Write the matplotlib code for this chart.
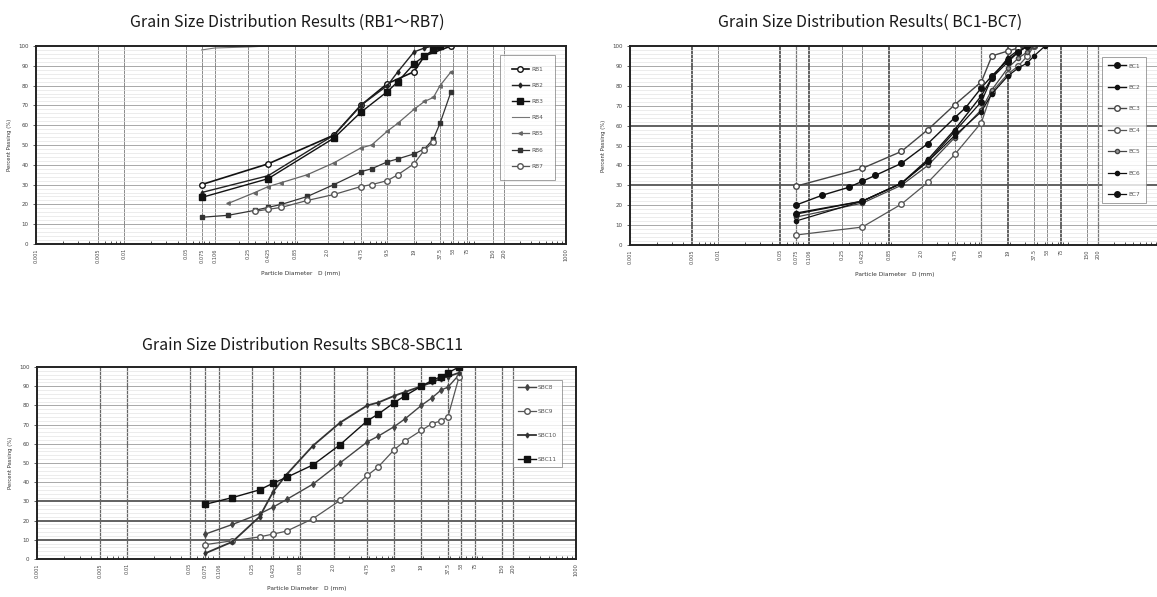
import matplotlib
matplotlib.use("Agg")
import matplotlib.pyplot as plt
import numpy as np
from matplotlib.ticker import LogLocator, NullFormatter, MultipleLocator

# x axis tick marks / labels (particle diameter, mm)
tick_vals = [0.001, 0.005, 0.01, 0.05, 0.075, 0.106, 0.25, 0.425, 0.85, 2.0,
             4.75, 9.5, 19, 37.5, 53, 75, 150, 200, 1000]
tick_text = ["0.001", "0.005", "0.01", "0.05", "0.075", "0.106", "0.25", "0.425",
             "0.85", "2.0", "4.75", "9.5", "19", "37.5", "53", "75", "150", "200", "1000"]

# ---- RB1 - RB7 (percent passing)
rb1_d = [0.075, 0.425, 2.36, 4.75, 9.5, 19, 25, 50]
rb1_p = [30, 40.5, 55, 70, 81, 87, 95, 100]
rb2_d = [0.075, 0.425, 2.36, 4.75, 9.5, 12.5, 19, 25, 31.5, 37.5]
rb2_p = [26, 34.5, 55, 70, 80, 87, 97, 99, 100, 100]
rb3_d = [0.075, 0.425, 2.36, 4.75, 9.5, 12.5, 19, 25, 31.5, 37.5]
rb3_p = [23.5, 33, 53.5, 66.5, 77, 82, 91, 95, 98, 100]
rb4_d = [0.075, 0.106, 0.25, 0.425]
rb4_p = [98, 99, 99.5, 100]
rb5_d = [0.15, 0.3, 0.425, 0.6, 1.18, 2.36, 4.75, 6.3, 9.5, 12.5, 19, 25, 31.5, 37.5, 50]
rb5_p = [20.5, 26, 29, 31, 35, 41, 48.5, 50, 57, 61, 68, 72, 74, 80, 87]
rb6_d = [0.075, 0.15, 0.3, 0.425, 0.6, 1.18, 2.36, 4.75, 6.3, 9.5, 12.5, 19, 25, 31.5, 37.5, 50]
rb6_p = [13.5, 14.5, 17, 18.5, 20, 24, 30, 36.5, 38, 41.5, 43, 45.5, 48, 53, 61, 77]
rb7_d = [0.3, 0.425, 0.6, 1.18, 2.36, 4.75, 6.3, 9.5, 12.5, 19, 25, 31.5]
rb7_p = [16.5, 17.5, 18.5, 22, 25, 29, 30, 32, 35, 40.5, 47.5, 51.5]

# ---- BC1 - BC7
bc1_d = [0.075, 0.15, 0.3, 0.425, 0.6, 1.18, 2.36, 4.75, 6.3, 9.5, 12.5, 19, 25, 31.5]
bc1_p = [20, 25, 29, 32, 35, 41, 51, 64, 69, 79, 85, 93, 97, 100]
bc2_d = [0.075, 0.425, 1.18, 2.36, 4.75, 9.5, 12.5, 19, 25, 31.5]
bc2_p = [16, 22, 31, 43, 58, 75, 84, 94, 98, 100]
bc3_d = [0.075, 0.425, 1.18, 2.36, 4.75, 9.5, 12.5, 19, 25, 37.5]
bc3_p = [29.5, 38.5, 47, 58, 70.5, 82, 95, 97.5, 99, 100]
bc4_d = [0.075, 0.425, 1.18, 2.36, 4.75, 9.5, 12.5, 19, 25, 31.5, 37.5]
bc4_p = [5, 9, 20.5, 31.5, 45.5, 61.5, 77, 86, 90, 95, 100]
bc5_d = [0.075, 0.425, 1.18, 2.36, 4.75, 9.5, 12.5, 19, 25, 31.5, 37.5]
bc5_p = [14, 21, 30, 40, 54, 68, 78, 89, 94, 97, 100]
bc6_d = [0.075, 0.425, 1.18, 2.36, 4.75, 9.5, 12.5, 19, 25, 31.5, 37.5, 50]
bc6_p = [12, 22, 31, 42, 55, 67, 76, 85, 89, 91.5, 95, 100]
bc7_d = [0.075, 0.425, 1.18, 2.36, 4.75, 9.5, 12.5, 19, 25, 31.5]
bc7_p = [15.5, 22, 31, 42, 57, 72, 84, 92, 97, 100]

# ---- SBC8 - SBC11
sbc8_d = [0.075, 0.15, 0.3, 0.425, 0.6, 1.18, 2.36, 4.75, 6.3, 9.5, 12.5, 19, 25, 31.5, 37.5, 50]
sbc8_p = [13, 18, 23.5, 27, 31, 39, 50, 61, 64, 69, 73, 80, 84, 88, 89.5, 96]
sbc9_d = [0.075, 0.15, 0.3, 0.425, 0.6, 1.18, 2.36, 4.75, 6.3, 9.5, 12.5, 19, 25, 31.5, 37.5, 50]
sbc9_p = [7.5, 9.5, 11.5, 13, 14.5, 21, 30.5, 43.5, 48, 57, 61.5, 67, 70.5, 72, 74, 95]
sbc10_d = [0.075, 0.15, 0.3, 0.425, 0.6, 1.18, 2.36, 4.75, 6.3, 9.5, 12.5, 19, 25, 31.5, 37.5, 50]
sbc10_p = [3, 9, 22, 35, 44, 59, 71, 80, 81.5, 85, 87, 90, 92, 94, 95, 97]
sbc11_d = [0.075, 0.15, 0.3, 0.425, 0.6, 1.18, 2.36, 4.75, 6.3, 9.5, 12.5, 19, 25, 31.5, 37.5, 50]
sbc11_p = [28.5, 32, 36, 39.5, 42.5, 49, 59.5, 72, 75.5, 81.5, 85, 90, 93, 95, 97, 100]

W, H = 1157, 597
fig = plt.figure(figsize=(W / 100, H / 100), dpi=100)


def px_axes(l, t, r, b):
    return fig.add_axes([l / W, 1 - b / H, (r - l) / W, (b - t) / H])


def setup(ax, vstyle, hstyle):
    ax.set_xscale("log")
    ax.set_xlim(0.001, 1000)
    ax.set_ylim(0, 100)
    ax.set_xticks(tick_vals)
    ax.set_xticklabels(tick_text, rotation=90, fontsize=3.6, color="#444")
    ax.xaxis.set_minor_locator(LogLocator(base=10, subs=np.arange(2, 10), numticks=30))
    ax.xaxis.set_minor_formatter(NullFormatter())
    ax.set_yticks(range(0, 101, 10))
    ax.yaxis.set_minor_locator(MultipleLocator(2))
    ax.tick_params(axis="y", labelsize=4, colors="#444", length=2, width=0.6)
    ax.tick_params(axis="y", which="minor", length=0)
    ax.tick_params(axis="x", which="major", length=0, pad=3)
    ax.tick_params(axis="x", which="minor", direction="in", length=2, width=0.6, color="#333")
    ax.grid(axis="y", which="minor", color="#e4e4e4", lw=0.5)
    for v in range(10, 100, 10):
        c, w = hstyle.get(v, ("#a8a8a8", 0.7))
        ax.axhline(v, color=c, lw=w, zorder=1)
    for v in tick_vals[1:-1]:
        c, w = vstyle.get(v, ("#8a8a8a", 0.7))
        ax.axvline(v, color=c, lw=w, zorder=1)
    for s in ax.spines.values():
        s.set_linewidth(1.4)
        s.set_color("#222")
    ax.set_ylabel("Percent Passing (%)", fontsize=3.8, color="#333", labelpad=4)
    ax.set_xlabel("Particle Diameter   D (mm)", fontsize=4.2, color="#333", labelpad=6)


def leg(ax, x, y, sp, bp):
    lg = ax.legend(loc="upper left", bbox_to_anchor=(x / W, 1 - y / H),
                   bbox_transform=fig.transFigure, fontsize=4.2, frameon=True,
                   fancybox=False, edgecolor="#777", handlelength=3.0,
                   labelspacing=sp, borderpad=bp, borderaxespad=0,
                   handletextpad=0.4, labelcolor="#555")
    lg.get_frame().set_linewidth(0.6)


title_font = ["Noto Sans CJK JP", "DejaVu Sans"]

# ---------------- panel 1
ax1 = px_axes(36, 46, 566, 244)
setup(ax1, {}, {})
ax1.plot(rb1_d, rb1_p, "-o", color="#111", lw=1.2, ms=4, mfc="white", label="RB1")
ax1.plot(rb2_d, rb2_p, "-d", color="#222", lw=1.0, ms=2.5, label="RB2")
ax1.plot(rb3_d, rb3_p, "-s", color="#111", lw=1.0, ms=4, label="RB3")
ax1.plot(rb4_d, rb4_p, "-", color="#777", lw=0.8, label="RB4")
ax1.plot(rb5_d, rb5_p, "-<", color="#666", lw=0.9, ms=2.5, label="RB5")
ax1.plot(rb6_d, rb6_p, "-s", color="#333", lw=0.9, ms=2.5, label="RB6")
ax1.plot(rb7_d, rb7_p, "-o", color="#555", lw=0.9, ms=4, mfc="white", label="RB7")
leg(ax1, 500, 55, 1.9, 2.0)
fig.text(287 / W, 1 - 22 / H, "Grain Size Distribution Results (RB1～RB7)",
         ha="center", va="center", fontsize=11.5, color="#1a1a1a", family=title_font)

# ---------------- panel 2
ax2 = px_axes(630, 46, 1160, 245)
dark = ("#555", 1.3)
mid = ("#777", 0.9)
setup(ax2, {0.005: dark, 0.05: dark, 0.106: dark, 0.85: dark, 19: dark, 75: dark,
            0.075: mid, 9.5: mid, 200: mid},
      {30: dark, 60: dark})
ax2.plot(bc1_d, bc1_p, "-o", color="#111", lw=1.0, ms=4, label="BC1")
ax2.plot(bc2_d, bc2_p, "-o", color="#111", lw=1.0, ms=3, label="BC2")
ax2.plot(bc3_d, bc3_p, "-o", color="#444", lw=1.0, ms=4, mfc="white", label="BC3")
ax2.plot(bc4_d, bc4_p, "-o", color="#555", lw=0.9, ms=4, mfc="white", label="BC4")
ax2.plot(bc5_d, bc5_p, "-o", color="#444", lw=0.9, ms=3, mfc="#999", label="BC5")
ax2.plot(bc6_d, bc6_p, "-o", color="#111", lw=0.9, ms=3, label="BC6")
ax2.plot(bc7_d, bc7_p, "-o", color="#111", lw=0.9, ms=4, label="BC7")
leg(ax2, 1102, 57, 2.8, 1.1)
fig.text(870 / W, 1 - 22 / H, "Grain Size Distribution Results( BC1-BC7)",
         ha="center", va="center", fontsize=11.5, color="#1a1a1a", family=title_font)

# ---------------- panel 3
ax3 = px_axes(37, 367, 576, 559)
setup(ax3, {v: ("#666", 0.9) for v in tick_vals},
      {10: dark, 20: dark, 30: dark})
ax3.plot(sbc8_d, sbc8_p, "-d", color="#444", lw=1.0, ms=3, label="SBC8")
ax3.plot(sbc9_d, sbc9_p, "-o", color="#555", lw=0.9, ms=4, mfc="white", label="SBC9")
ax3.plot(sbc10_d, sbc10_p, "-d", color="#333", lw=1.3, ms=2.5, label="SBC10")
ax3.plot(sbc11_d, sbc11_p, "-s", color="#111", lw=1.0, ms=4.5, label="SBC11")
leg(ax3, 513, 380, 3.2, 0.9)
fig.text(303 / W, 1 - 345 / H, "Grain Size Distribution Results SBC8-SBC11",
         ha="center", va="center", fontsize=11.5, color="#1a1a1a", family=title_font)

fig.savefig("out.png", dpi=100)
